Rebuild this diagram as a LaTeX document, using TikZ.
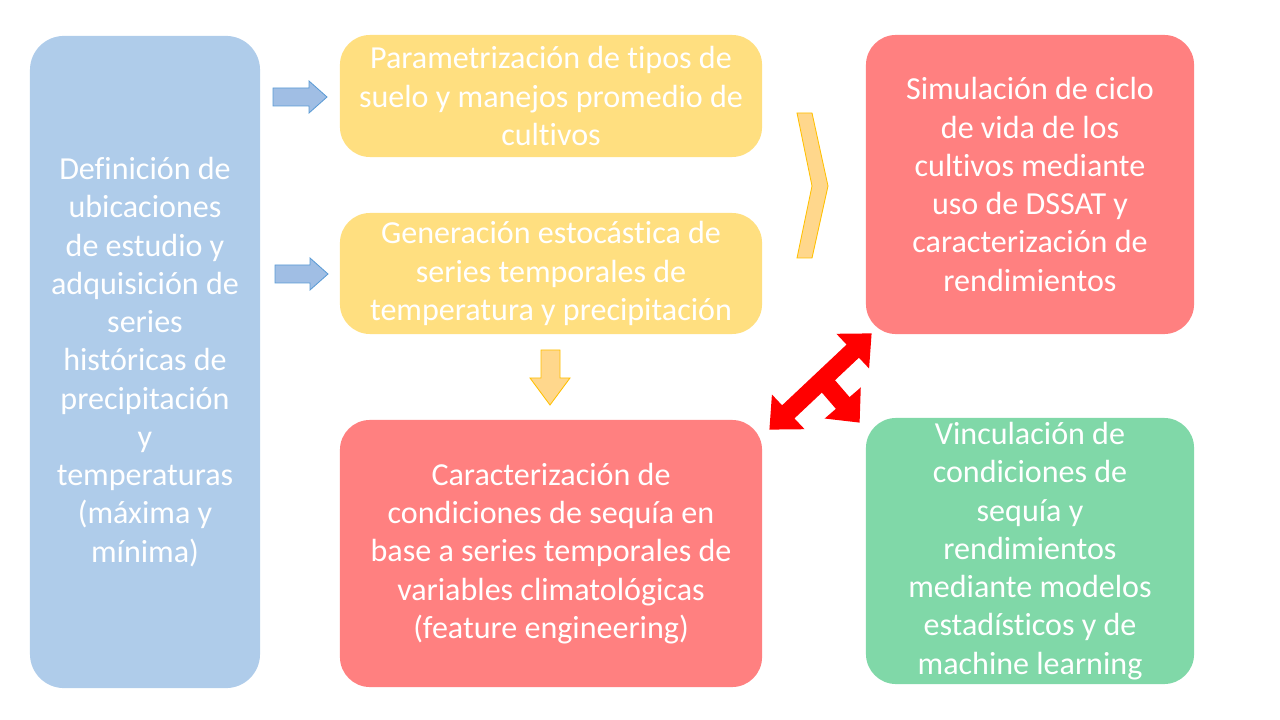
\documentclass[tikz,border=0pt]{standalone}
\usepackage{fontspec}
\setmainfont{Carlito}[Ligatures={NoCommon}]
\usetikzlibrary{arrows.meta,calc}
\definecolor{boxblue}{RGB}{175,204,234}
\definecolor{boxyellow}{RGB}{255,223,128}
\definecolor{boxred}{RGB}{255,128,128}
\definecolor{boxgreen}{RGB}{128,216,168}
\definecolor{arrblue}{RGB}{160,190,228}
\definecolor{arrblueline}{RGB}{91,155,213}
\definecolor{arryellow}{RGB}{255,215,140}
\definecolor{arryellowline}{RGB}{255,192,0}
\begin{document}
\begin{tikzpicture}[x=0.025cm,y=-0.025cm,
    stage/.style={rounded corners=0.75cm, inner sep=0pt, text=white, align=center,
                  font=\fontsize{22.8}{27.2}\selectfont},
    bigarrow/.style={line width=0.45cm, red, {Triangle[width=1.15cm,length=0.65cm]}-{Triangle[width=1.15cm,length=0.65cm]}}]
  \useasboundingbox (0,0) rectangle (1280,720);

  \node [stage, fill=boxblue, minimum width=5.75cm, minimum height=16.3cm, rounded corners=0.85cm] (datos) at (145,362)
        {Definición de\\ ubicaciones\\ de estudio y\\ adquisición de\\ series\\ históricas de\\ precipitación\\ y\\ temperaturas\\ (máxima y\\ mínima)};
  \node [stage, fill=boxyellow, minimum width=10.55cm, minimum height=3.05cm] (suelo) at (551,96)
        {Parametrización de tipos de\\ suelo y manejos promedio de\\ cultivos};
  \node [stage, fill=boxyellow, minimum width=10.55cm, minimum height=3.025cm] (clima) at (551,273.5)
        {Generación estocástica de\\ series temporales de\\ temperatura y precipitación};
  \node [stage, fill=boxred, minimum width=10.55cm, minimum height=6.675cm] (sequia) at (551,553.5)
        {Caracterización de\\ condiciones de sequía en\\ base a series temporales de\\ variables climatológicas\\ (feature engineering)};
  \node [stage, fill=boxred, minimum width=8.2cm, minimum height=7.475cm] (dssat) at (1030,184.5)
        {Simulación de ciclo\\ de vida de los\\ cultivos mediante\\ uso de DSSAT y\\ caracterización de\\ rendimientos};
  \node [stage, fill=boxgreen, minimum width=8.2cm, minimum height=6.65cm] (modelos) at (1030,551)
        {Vinculación de\\ condiciones de\\ sequía y\\ rendimientos\\ mediante modelos\\ estadísticos y de\\ machine learning};

  % block arrows from the left box
  \filldraw [fill=arrblue, draw=arrblueline, line width=0.6pt]
    (273,88) -- (309,88) -- (309,81) -- (327,97) -- (309,113) -- (309,106) -- (273,106) -- cycle;
  \filldraw [fill=arrblue, draw=arrblueline, line width=0.6pt]
    (275,265) -- (310,265) -- (310,258) -- (328,274) -- (310,290) -- (310,283) -- (275,283) -- cycle;

  % chevron towards DSSAT
  \filldraw [fill=arryellow, draw=arryellowline, line width=0.6pt]
    (797,113) -- (812,113) -- (828,186) -- (812,258) -- (797,258) -- (812,186) -- cycle;

  % down arrow
  \filldraw [fill=arryellow, draw=arryellowline, line width=0.6pt]
    (541,350) -- (560,350) -- (560,378) -- (570,378) -- (550,405) -- (530,378) -- (541,378) -- cycle;

  % red connector
  \coordinate (A) at ($(sequia.north east)+(7,10)$);
  \coordinate (B) at ($(dssat.south west)+(6,-1)$);
  \coordinate (C) at ($(modelos.north west)+(-6,5)$);
  \draw [bigarrow] (A) -- (B) coordinate [pos=0.52] (M);
  \draw [bigarrow, -{Triangle[width=1.15cm,length=0.65cm]}] (M) -- (C);
\end{tikzpicture}
\end{document}
